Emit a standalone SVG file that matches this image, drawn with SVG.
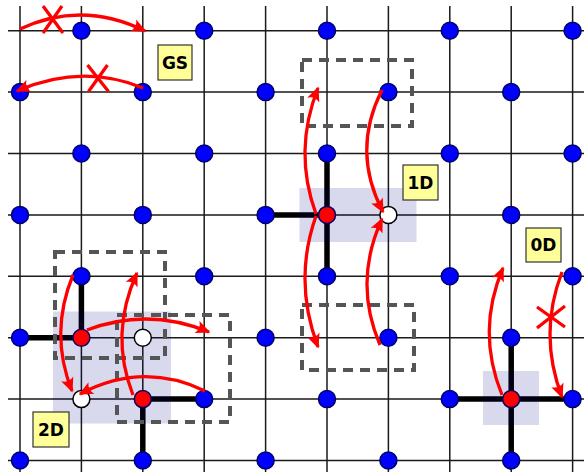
<svg xmlns="http://www.w3.org/2000/svg" width="584" height="475" viewBox="0 0 584 475">
<style>
.grid{stroke:#1a1a1a;stroke-width:1.5;fill:none}
.bond{stroke:#000;stroke-width:5.5;fill:none;stroke-linecap:butt}
.shade{fill:#00008b;fill-opacity:0.15;stroke:none}
.dash{fill:none;stroke:#555;stroke-width:4;stroke-dasharray:10 7}
.b{fill:#0000ff;stroke:#000066;stroke-width:1.5}
.r{fill:#ff0000;stroke:#000066;stroke-width:1.5}
.w{fill:#ffffff;stroke:#000;stroke-width:1.5}
.arr{fill:none;stroke:#ff0000;stroke-width:3.3;marker-end:url(#ah)}
.x{fill:none;stroke:#ff0000;stroke-width:3.3}
.lbl rect{fill:#ffff99;stroke:#333;stroke-width:1.2}
.lbl text{font-family:"DejaVu Sans",sans-serif;font-weight:bold;font-size:17px;text-anchor:middle;fill:#000}
</style>
<defs>
<marker id="ah" markerUnits="userSpaceOnUse" viewBox="-16 -8 18 16" markerWidth="18" markerHeight="16" refX="0" refY="0" orient="auto">
<path d="M1.5,0 L-13,-6.5 Q-8.5,0 -13,6.5 Z" fill="#ff0000"/>
</marker>
</defs>
<rect width="584" height="475" fill="#fff"/>
<g id="grid" class="grid">
<path d="M8,30.7H584M8,92.1H584M8,153.5H584M8,214.9H584M8,276.3H584M8,337.7H584M8,399.1H584M8,460.5H584"/>
<path d="M20,6V472M81.4,6V472M142.8,6V472M204.2,6V472M265.6,6V472M327,6V472M388.4,6V472M449.8,6V472M511.2,6V472M572.6,6V472"/>
</g>
<g id="bonds" class="bond">
<path d="M327,153.5V276.3M265.6,214.9H327"/>
<path d="M20,337.7H81.4V276.3"/>
<path d="M204.2,399.1H142.8V460.5"/>
<path d="M449.8,399.1H572.6M511.2,337.7V460.5"/>
</g>
<g id="shades">
<rect id="shade-1D" class="shade" x="299.5" y="188" width="117" height="54"/>
<rect id="shade-2D" class="shade" x="53" y="311.5" width="118" height="112"/>
<rect id="shade-0D" class="shade" x="483" y="371" width="56" height="54"/>
</g>
<g id="dashed-boxes">
<rect class="dash" x="302" y="60" width="110" height="66"/>
<rect class="dash" x="302" y="305" width="112" height="65"/>
<rect class="dash" x="55" y="252" width="110" height="106"/>
<rect class="dash" x="117" y="315" width="113" height="107"/>
</g>
<g id="dots">
<circle class="b" cx="81.4" cy="30.7" r="8.5"/>
<circle class="b" cx="204.2" cy="30.7" r="8.5"/>
<circle class="b" cx="327" cy="30.7" r="8.5"/>
<circle class="b" cx="449.8" cy="30.7" r="8.5"/>
<circle class="b" cx="572.6" cy="30.7" r="8.5"/>
<circle class="b" cx="20" cy="92.1" r="8.5"/>
<circle class="b" cx="142.8" cy="92.1" r="8.5"/>
<circle class="b" cx="265.6" cy="92.1" r="8.5"/>
<circle class="b" cx="388.4" cy="92.1" r="8.5"/>
<circle class="b" cx="511.2" cy="92.1" r="8.5"/>
<circle class="b" cx="81.4" cy="153.5" r="8.5"/>
<circle class="b" cx="204.2" cy="153.5" r="8.5"/>
<circle class="b" cx="327" cy="153.5" r="8.5"/>
<circle class="b" cx="449.8" cy="153.5" r="8.5"/>
<circle class="b" cx="572.6" cy="153.5" r="8.5"/>
<circle class="b" cx="20" cy="214.9" r="8.5"/>
<circle class="b" cx="142.8" cy="214.9" r="8.5"/>
<circle class="b" cx="265.6" cy="214.9" r="8.5"/>
<circle class="r" cx="327" cy="214.9" r="8.5"/>
<circle class="w" cx="388.4" cy="214.9" r="8.5"/>
<circle class="b" cx="511.2" cy="214.9" r="8.5"/>
<circle class="b" cx="81.4" cy="276.3" r="8.5"/>
<circle class="b" cx="204.2" cy="276.3" r="8.5"/>
<circle class="b" cx="327" cy="276.3" r="8.5"/>
<circle class="b" cx="449.8" cy="276.3" r="8.5"/>
<circle class="b" cx="572.6" cy="276.3" r="8.5"/>
<circle class="b" cx="20" cy="337.7" r="8.5"/>
<circle class="r" cx="81.4" cy="337.7" r="8.5"/>
<circle class="w" cx="142.8" cy="337.7" r="8.5"/>
<circle class="b" cx="265.6" cy="337.7" r="8.5"/>
<circle class="b" cx="388.4" cy="337.7" r="8.5"/>
<circle class="b" cx="511.2" cy="337.7" r="8.5"/>
<circle class="w" cx="81.4" cy="399.1" r="8.5"/>
<circle class="r" cx="142.8" cy="399.1" r="8.5"/>
<circle class="b" cx="204.2" cy="399.1" r="8.5"/>
<circle class="b" cx="327" cy="399.1" r="8.5"/>
<circle class="b" cx="449.8" cy="399.1" r="8.5"/>
<circle class="r" cx="511.2" cy="399.1" r="8.5"/>
<circle class="b" cx="572.6" cy="399.1" r="8.5"/>
<circle class="b" cx="20" cy="460.5" r="8.5"/>
<circle class="b" cx="142.8" cy="460.5" r="8.5"/>
<circle class="b" cx="265.6" cy="460.5" r="8.5"/>
<circle class="b" cx="388.4" cy="460.5" r="8.5"/>
<circle class="b" cx="511.2" cy="460.5" r="8.5"/>
</g>
<g id="connectors">
<path class="arr" d="M20,29 Q82,0 145,31"/>
<path class="arr" d="M143,88 Q82,63 17,91"/>
<path class="arr" d="M316,214 Q293,151 318,88"/>
<path class="arr" d="M316,216 Q293,281 318,347"/>
<path class="arr" d="M382,90 Q351,151 383,212"/>
<path class="arr" d="M380,345 Q353,282 382,219"/>
<path class="arr" d="M87,330 Q148,307 209,332"/>
<path class="arr" d="M205,391 Q143,361 80,394"/>
<path class="arr" d="M73,275 Q49,333 72,391"/>
<path class="arr" d="M133,395 Q109,334 137,273"/>
<path class="arr" d="M502,395 Q476,331 503,268"/>
<path class="arr" d="M562,272 Q538,334 562,397"/>
<path class="x" d="M43,6L63,33M62,6L43,33"/>
<path class="x" d="M87.5,65L108.5,91.5M107.5,65L88.5,91.5"/>
<path class="x" d="M537,307L565,327M537,328L565,306"/>
</g>
<g id="label-GS" class="lbl"><rect x="158" y="45" width="34" height="35"/><text x="175" y="68.5">GS</text></g>
<g id="label-1D" class="lbl"><rect x="403" y="165" width="35" height="35"/><text x="420.5" y="188.5">1D</text></g>
<g id="label-0D" class="lbl"><rect x="526" y="228" width="35" height="34"/><text x="543.5" y="251">0D</text></g>
<g id="label-2D" class="lbl"><rect x="33" y="412" width="36" height="35"/><text x="51" y="435.5">2D</text></g>
</svg>
